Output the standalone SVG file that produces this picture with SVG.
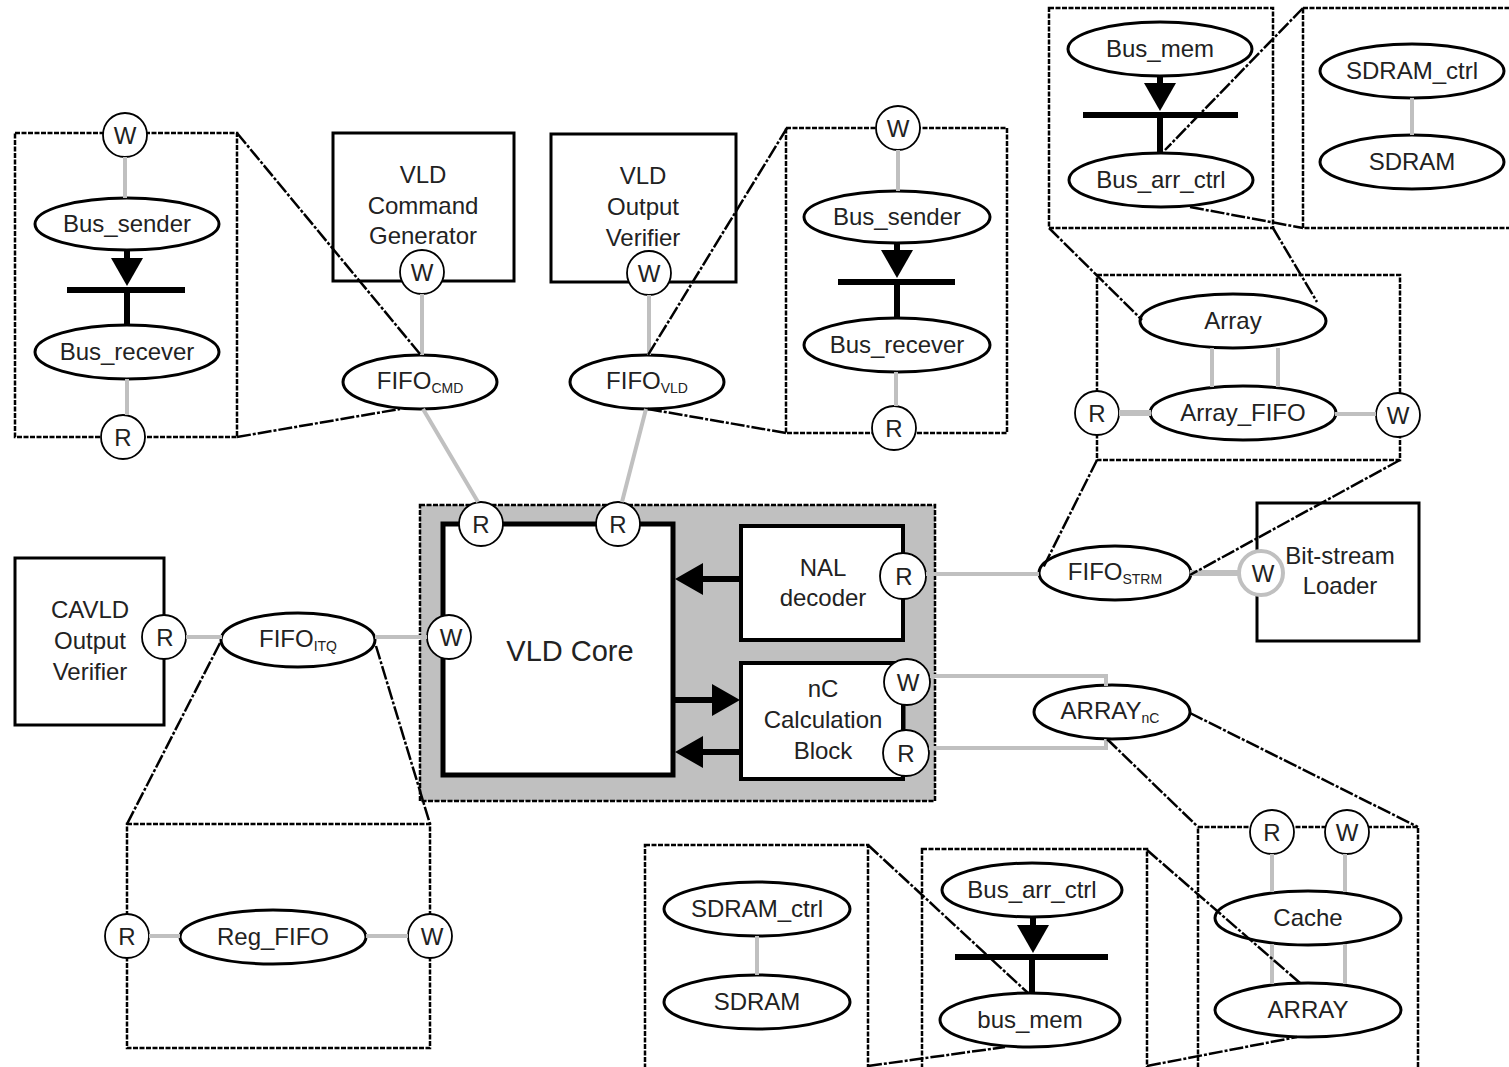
<svg xmlns="http://www.w3.org/2000/svg" width="1509" height="1067" viewBox="0 0 1509 1067">
<style>
.t{font-family:"Liberation Sans",Arial,sans-serif;font-size:24px;fill:#222;text-anchor:middle}
.s{font-size:14px}
.e{fill:#fff;stroke:#000;stroke-width:3}
.c{fill:#fff;stroke:#000;stroke-width:1.8}
.box{fill:#fff;stroke:#000;stroke-width:3}
.dbox{fill:none;stroke:#000;stroke-width:2.5;stroke-dasharray:5 1.5}
.zl{stroke:#000;stroke-width:2.5;stroke-dasharray:14 2 3 2;fill:none}
.g{stroke:#c0c0c0;stroke-width:4;fill:none}
.bus{stroke:#000;stroke-width:6;fill:none}
</style>
<defs>
<marker id="ah" viewBox="0 0 28 32" refX="0" refY="16" markerWidth="28" markerHeight="32" markerUnits="userSpaceOnUse" orient="auto">
<path d="M0,0 L28,16 L0,32 Z" fill="#000"/>
</marker>
</defs>
<rect width="1509" height="1067" fill="#fff"/>

<!-- container boxes -->
<g id="container-busTL"><rect class="dbox" x="15" y="133" width="222" height="304"/></g>
<g id="container-busTM"><rect class="dbox" x="786" y="128" width="221" height="305"/></g>
<g id="container-busTR"><rect class="dbox" x="1049" y="8" width="224" height="220"/></g>
<g id="container-sdramTR"><rect class="dbox" x="1303" y="8" width="215" height="220"/></g>
<g id="container-array"><rect class="dbox" x="1097" y="275" width="303" height="185"/></g>
<g id="container-regfifo"><rect class="dbox" x="127" y="824" width="303" height="224"/></g>
<g id="container-sdramB"><rect class="dbox" x="645" y="845" width="223" height="230"/></g>
<g id="container-busB"><rect class="dbox" x="922" y="849" width="225" height="226"/></g>
<g id="container-cache"><rect class="dbox" x="1198" y="827" width="220" height="248"/></g>
<g id="container-vld"><rect x="420" y="505" width="515" height="296" fill="#c0c0c0" stroke="#000" stroke-width="2.5" stroke-dasharray="5 1.5"/></g>

<!-- solid boxes -->
<g id="vld-cmd-gen"><rect class="box" x="333" y="133" width="181" height="148"/>
<text class="t" x="423" y="183">VLD</text><text class="t" x="423" y="214">Command</text><text class="t" x="423" y="244">Generator</text></g>
<g id="vld-out-ver"><rect class="box" x="551" y="134" width="185" height="148"/>
<text class="t" x="643" y="184">VLD</text><text class="t" x="643" y="215">Output</text><text class="t" x="643" y="246">Verifier</text></g>
<g id="cavld-out-ver"><rect class="box" x="15" y="558" width="149" height="167"/>
<text class="t" x="90" y="618">CAVLD</text><text class="t" x="90" y="649">Output</text><text class="t" x="90" y="680">Verifier</text></g>
<g id="bitstream-loader"><rect class="box" x="1257" y="503" width="162" height="138"/>
<text class="t" x="1340" y="564">Bit-stream</text><text class="t" x="1340" y="594">Loader</text></g>
<g id="vld-core"><rect x="443" y="524" width="230" height="251" fill="#fff" stroke="#000" stroke-width="5"/>
<text class="t" x="570" y="661" style="font-size:29px">VLD Core</text></g>
<g id="nal-decoder"><rect x="741" y="526" width="162" height="114" fill="#fff" stroke="#000" stroke-width="4"/>
<text class="t" x="823" y="576">NAL</text><text class="t" x="823" y="606">decoder</text></g>
<g id="nc-calc"><rect x="741" y="663" width="162" height="116" fill="#fff" stroke="#000" stroke-width="4"/>
<text class="t" x="823" y="697">nC</text><text class="t" x="823" y="728">Calculation</text><text class="t" x="823" y="759">Block</text></g>

<!-- ellipses -->
<g id="bus-sender-1"><ellipse class="e" cx="127" cy="224" rx="92" ry="26"/><text class="t" x="127" y="232">Bus_sender</text></g>
<g id="bus-recever-1"><ellipse class="e" cx="127" cy="352" rx="92" ry="27"/><text class="t" x="127" y="360">Bus_recever</text></g>
<g id="fifo-cmd"><ellipse class="e" cx="420" cy="382" rx="77" ry="27"/><text class="t" x="420" y="389">FIFO<tspan class="s" dy="4">CMD</tspan></text></g>
<g id="fifo-vld"><ellipse class="e" cx="647" cy="382" rx="77" ry="27"/><text class="t" x="647" y="389">FIFO<tspan class="s" dy="4">VLD</tspan></text></g>
<g id="bus-sender-2"><ellipse class="e" cx="897" cy="217" rx="93" ry="26"/><text class="t" x="897" y="225">Bus_sender</text></g>
<g id="bus-recever-2"><ellipse class="e" cx="897" cy="345" rx="93" ry="27"/><text class="t" x="897" y="353">Bus_recever</text></g>
<g id="bus-mem-1"><ellipse class="e" cx="1160" cy="49" rx="92" ry="27"/><text class="t" x="1160" y="57">Bus_mem</text></g>
<g id="bus-arr-ctrl-1"><ellipse class="e" cx="1161" cy="180" rx="92" ry="27"/><text class="t" x="1161" y="188">Bus_arr_ctrl</text></g>
<g id="sdram-ctrl-1"><ellipse class="e" cx="1412" cy="71" rx="92" ry="27"/><text class="t" x="1412" y="79">SDRAM_ctrl</text></g>
<g id="sdram-1"><ellipse class="e" cx="1412" cy="162" rx="92" ry="27"/><text class="t" x="1412" y="170">SDRAM</text></g>
<g id="array"><ellipse class="e" cx="1233" cy="321" rx="93" ry="27"/><text class="t" x="1233" y="329">Array</text></g>
<g id="array-fifo"><ellipse class="e" cx="1243" cy="413" rx="93" ry="27"/><text class="t" x="1243" y="421">Array_FIFO</text></g>
<g id="fifo-strm"><ellipse class="e" cx="1115" cy="573" rx="76" ry="27"/><text class="t" x="1115" y="580">FIFO<tspan class="s" dy="4">STRM</tspan></text></g>
<g id="fifo-itq"><ellipse class="e" cx="298" cy="640" rx="77" ry="27"/><text class="t" x="298" y="647">FIFO<tspan class="s" dy="4">ITQ</tspan></text></g>
<g id="reg-fifo"><ellipse class="e" cx="273" cy="937" rx="93" ry="27"/><text class="t" x="273" y="945">Reg_FIFO</text></g>
<g id="array-nc"><ellipse class="e" cx="1112" cy="712" rx="78" ry="27"/><text class="t" x="1110" y="719">ARRAY<tspan class="s" dy="4">nC</tspan></text></g>
<g id="cache"><ellipse class="e" cx="1308" cy="918" rx="93" ry="27"/><text class="t" x="1308" y="926">Cache</text></g>
<g id="array-2"><ellipse class="e" cx="1308" cy="1010" rx="93" ry="27"/><text class="t" x="1308" y="1018">ARRAY</text></g>
<g id="sdram-ctrl-2"><ellipse class="e" cx="757" cy="909" rx="93" ry="27"/><text class="t" x="757" y="917">SDRAM_ctrl</text></g>
<g id="sdram-2"><ellipse class="e" cx="757" cy="1002" rx="93" ry="27"/><text class="t" x="757" y="1010">SDRAM</text></g>
<g id="bus-arr-ctrl-2"><ellipse class="e" cx="1032" cy="890" rx="90" ry="27"/><text class="t" x="1032" y="898">Bus_arr_ctrl</text></g>
<g id="bus-mem-2"><ellipse class="e" cx="1030" cy="1020" rx="90" ry="27"/><text class="t" x="1030" y="1028">bus_mem</text></g>

<!-- port circles -->
<g id="w-tl"><circle class="c" cx="125" cy="135" r="22"/><text class="t" x="125" y="144">W</text></g>
<g id="r-tl"><circle class="c" cx="123" cy="437" r="22"/><text class="t" x="123" y="446">R</text></g>
<g id="w-cmd"><circle class="c" cx="422" cy="272" r="22"/><text class="t" x="422" y="281">W</text></g>
<g id="w-ver"><circle class="c" cx="649" cy="273" r="22"/><text class="t" x="649" y="282">W</text></g>
<g id="w-tm"><circle class="c" cx="898" cy="128" r="22"/><text class="t" x="898" y="137">W</text></g>
<g id="r-tm"><circle class="c" cx="894" cy="428" r="22"/><text class="t" x="894" y="437">R</text></g>
<g id="r-arr"><circle class="c" cx="1097" cy="413" r="22"/><text class="t" x="1097" y="422">R</text></g>
<g id="w-arr"><circle class="c" cx="1398" cy="415" r="22"/><text class="t" x="1398" y="424">W</text></g>
<g id="w-bsl"><circle cx="1261" cy="573" r="22" fill="#fff" stroke="#c0c0c0" stroke-width="4"/><text class="t" x="1263" y="582">W</text></g>
<g id="r-core-1"><circle class="c" cx="481" cy="524" r="22"/><text class="t" x="481" y="533">R</text></g>
<g id="r-core-2"><circle class="c" cx="618" cy="524" r="22"/><text class="t" x="618" y="533">R</text></g>
<g id="w-core"><circle class="c" cx="449" cy="637" r="22"/><text class="t" x="451" y="646">W</text></g>
<g id="r-nal"><circle class="c" cx="903" cy="576" r="23"/><text class="t" x="904" y="585">R</text></g>
<line x1="904" y1="700" x2="904" y2="733" stroke="#000" stroke-width="3"/>
<g id="w-nc"><circle class="c" cx="907" cy="682" r="23"/><text class="t" x="908" y="691">W</text></g>
<g id="r-nc"><circle class="c" cx="906" cy="753" r="23"/><text class="t" x="906" y="762">R</text></g>
<g id="r-cav"><circle class="c" cx="164" cy="637" r="22"/><text class="t" x="165" y="646">R</text></g>
<g id="r-reg"><circle class="c" cx="127" cy="936" r="22"/><text class="t" x="127" y="945">R</text></g>
<g id="w-reg"><circle class="c" cx="430" cy="936" r="22"/><text class="t" x="432" y="945">W</text></g>
<g id="r-cache"><circle class="c" cx="1272" cy="832" r="22"/><text class="t" x="1272" y="841">R</text></g>
<g id="w-cache"><circle class="c" cx="1347" cy="832" r="22"/><text class="t" x="1347" y="841">W</text></g>

<!-- connectors -->
<g id="connectors">
<!-- gray data links -->
<path class="g" d="M125,157 V198 M127,379 V415"/>
<path class="g" d="M422,294 V355 M423,409 L478,502"/>
<path class="g" d="M649,295 V355 M646,409 L622,502"/>
<path class="g" d="M898,150 V191 M896,372 V406"/>
<path class="g" d="M1412,98 V135"/>
<path class="g" d="M1212,348 V387 M1278,348 V387"/>
<path class="g" d="M1119,413 H1151" style="stroke-width:6"/>
<path class="g" d="M1335,414 H1376"/>
<path class="g" d="M1190,573 H1239" style="stroke-width:6"/>
<path class="g" d="M926,574 H1039"/>
<path class="g" d="M930,676 H1106 V686 M929,748 H1106 V739"/>
<path class="g" d="M186,637 H222 M375,637 H427"/>
<path class="g" d="M149,936 H180 M366,936 H408"/>
<path class="g" d="M1272,854 V892 M1345,854 V892 M1272,944 V984 M1345,944 V984"/>
<path class="g" d="M757,936 V975"/>
<!-- bus arrows -->
<path class="bus" d="M127,250 V258" marker-end="url(#ah)"/>
<path class="bus" d="M67,290 H185 M127,290 V325"/>
<path class="bus" d="M897,243 V250" marker-end="url(#ah)"/>
<path class="bus" d="M838,282 H955 M897,282 V318"/>
<path class="bus" d="M1160,76 V83" marker-end="url(#ah)"/>
<path class="bus" d="M1083,115 H1238 M1160,115 V153"/>
<path class="bus" d="M1033,917 V925" marker-end="url(#ah)"/>
<path class="bus" d="M955,957 H1108 M1032,957 V993"/>
<path class="bus" d="M741,579 H703" marker-end="url(#ah)"/>
<path class="bus" d="M673,700 H712" marker-end="url(#ah)"/>
<path class="bus" d="M741,752 H703" marker-end="url(#ah)"/>
<!-- zoom (expansion) lines -->
<path class="zl" d="M237,133 L420,354 M237,437 L400,409"/>
<path class="zl" d="M787,128 L648,355 M648,409 L786,433"/>
<path class="zl" d="M1303,8 L1165,150 M1190,207 L1303,228"/>
<path class="zl" d="M1049,228 L1142,320 M1273,228 L1317,302"/>
<path class="zl" d="M1097,460 L1043,568 M1400,460 L1190,575"/>
<path class="zl" d="M220,643 L127,824 M376,646 L430,824"/>
<path class="zl" d="M1107,739 L1198,827 M1190,713 L1418,827"/>
<path class="zl" d="M1147,850 L1300,983 M1147,1066 L1297,1037"/>
<path class="zl" d="M868,845 L1028,993 M868,1066 L1005,1047"/>
</g>
</svg>
